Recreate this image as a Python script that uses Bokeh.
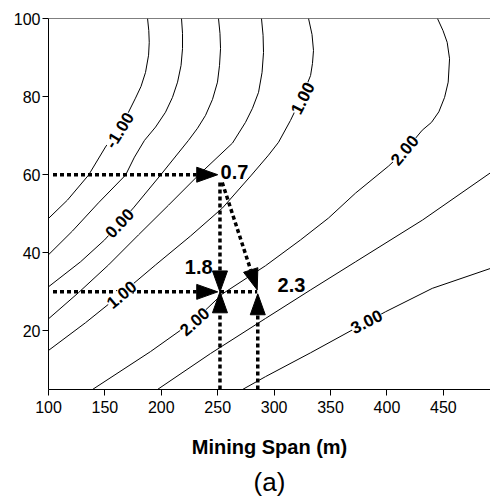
import math

from bokeh.plotting import figure
from bokeh.models import Label, Span, Range1d, FixedTicker, Title
from bokeh.embed import file_html
from bokeh.resources import INLINE

# Isolines of the response over mining span (m) and the vertical variable,
# traced as (span, y) point lists, one pair of lists per contour level.
level_neg100_x = [187.8, 188.9, 189.3, 188.7, 186.0, 182.0, 177.1, 170.9, 163.8, 150.5, 135.5, 116.8, 100.0]
level_neg100_y = [100.0, 96.9, 93.9, 90.6, 86.2, 82.6, 79.6, 76.0, 72.7, 67.1, 59.9, 53.5, 48.8]

level_neg050_x = [217.9, 218.8, 218.8, 217.5, 214.4, 209.9, 203.7, 194.9, 185.1, 176.2, 168.3, 144.3, 121.3, 100.0]
level_neg050_y = [100.0, 96.2, 92.3, 88.0, 83.7, 79.8, 76.0, 72.2, 68.8, 64.5, 59.9, 52.8, 45.6, 39.5]

level_000_x = [250.7, 252.0, 252.5, 251.6, 249.8, 245.4, 239.2, 232.1, 224.1, 199.3, 175.3, 149.7, 128.4, 100.0]
level_000_y = [100.0, 96.2, 92.3, 88.0, 83.7, 79.3, 75.2, 71.9, 68.8, 59.9, 51.5, 43.3, 37.7, 31.3]

level_050_x = [288.8, 290.2, 290.6, 289.3, 286.2, 280.8, 274.6, 263.1, 233.0, 206.4, 179.8, 153.2, 126.6, 100.0]
level_050_y = [100.0, 95.7, 91.3, 86.2, 81.1, 77.0, 73.4, 68.1, 59.9, 52.2, 44.6, 36.9, 29.8, 23.1]

level_100_x = [330.5, 333.6, 334.9, 334.0, 332.3, 325.2, 314.5, 303.9, 295.0, 279.9, 254.3, 225.9, 194.9, 163.8, 132.8, 100.0]
level_100_y = [100.0, 95.9, 91.8, 88.5, 85.4, 80.3, 73.9, 68.3, 65.0, 59.9, 51.5, 44.3, 36.9, 29.3, 22.1, 15.0]

level_200_x = [444.8, 449.7, 453.4, 455.5, 454.3, 451.1, 446.0, 439.5, 431.3, 416.5, 401.4, 372.2, 348.2, 323.4, 292.4, 254.3, 230.3, 190.4, 139.0]
level_200_y = [100.0, 96.9, 93.9, 89.7, 83.7, 79.8, 76.1, 73.4, 71.4, 66.3, 62.2, 55.3, 48.9, 43.3, 36.7, 29.5, 22.9, 14.7, 5.0]

level_250_x = [491.8, 431.6, 372.2, 332.3, 292.4, 243.6, 196.6]
level_250_y = [60.5, 48.4, 37.7, 30.5, 23.2, 14.2, 5.0]

level_300_x = [272.0, 292.4, 332.3, 381.0, 398.7, 440.2, 491.8]
level_300_y = [5.0, 8.3, 14.4, 22.1, 24.9, 30.9, 36.0]

# inline contour labels: level text, position and text angle (deg)
clabel_text = ["-1.00", "0.00", "1.00", "1.00", "2.00", "2.00", "3.00"]
clabel_x = [162.9, 162.9, 164.7, 325.2, 415.6, 229.4, 381.9]
clabel_y = [71.4, 47.6, 29.3, 79.6, 66.3, 22.4, 22.4]
clabel_angle = [58, 47, 40, 63, 50, 42, 27]

# read-out guides: arrows (start -> tip) and a plain connecting segment
arrow_x0 = [104.0, 252.0, 104.0, 252.0, 254.0, 285.5]
arrow_y0 = [60.0, 58.0, 30.0, 5.0, 58.0, 5.0]
arrow_x1 = [250.0, 252.0, 250.0, 252.0, 285.0, 285.5]
arrow_y1 = [60.0, 30.0, 30.0, 30.0, 30.5, 29.5]
link_x = [252.0, 285.0]
link_y = [30.0, 30.0]

# read-out values
value_text = ["0.7", "1.8", "2.3"]
value_x = [252.5, 245.5, 303.0]
value_y = [60.8, 36.3, 31.7]
value_align = ["left", "right", "left"]

x_ticks = [100, 150, 200, 250, 300, 350, 400, 450]
y_ticks = [20, 40, 60, 80, 100]

FONT = "Liberation Sans"
X0, X1, Y0, Y1 = 100, 491.8, 5, 100
FRAME_W, FRAME_H = 442, 372

p = figure(width=490, height=501, output_backend="svg", toolbar_location=None,
           x_range=Range1d(X0, X1), y_range=Range1d(Y0, Y1),
           min_border_left=48, min_border_right=0, min_border_top=18,
           min_border_bottom=111)
p.grid.visible = False
p.outline_line_color = None
p.background_fill_color = "white"
p.border_fill_color = "white"

for ax in (p.xaxis[0], p.yaxis[0]):
    ax.axis_line_color = "black"
    ax.axis_line_width = 1
    ax.major_tick_line_color = "black"
    ax.major_tick_out = 6
    ax.major_tick_in = 0
    ax.minor_tick_line_color = None
    ax.major_label_text_font = FONT
    ax.major_label_text_font_size = "16px"
    ax.major_label_text_color = "black"
p.xaxis.ticker = FixedTicker(ticks=x_ticks)
p.yaxis.ticker = FixedTicker(ticks=y_ticks)
p.yaxis.major_label_standoff = 2

p.xaxis.axis_label = "Mining Span (m)"
p.xaxis.axis_label_text_font = FONT
p.xaxis.axis_label_text_font_style = "bold"
p.xaxis.axis_label_text_font_size = "20px"
p.xaxis.axis_label_text_color = "black"
p.xaxis.axis_label_standoff = 20

p.add_layout(Title(text="(a)", align="center", text_font=FONT,
                   text_font_style="normal", text_font_size="26px",
                   text_color="black", standoff=9), "below")

p.add_layout(Span(location=Y1, dimension="width", line_color="black", line_width=1))

contours = [
    (level_neg100_x, level_neg100_y), (level_neg050_x, level_neg050_y),
    (level_000_x, level_000_y), (level_050_x, level_050_y),
    (level_100_x, level_100_y), (level_200_x, level_200_y),
    (level_250_x, level_250_y), (level_300_x, level_300_y),
]
for xs, ys in contours:
    p.line(xs, ys, line_color="black", line_width=1, line_join="round")

for t, x, y, a in zip(clabel_text, clabel_x, clabel_y, clabel_angle):
    p.add_layout(Label(x=x, y=y, text=t, angle=a, angle_units="deg",
                       text_align="center", text_baseline="middle",
                       text_font=FONT, text_font_style="bold",
                       text_font_size="17px", text_color="black",
                       background_fill_color="white"))

# dotted shafts ending at the base of slender filled arrowheads
SX = FRAME_W / (X1 - X0)
SY = FRAME_H / (Y1 - Y0)
HEAD_LEN, HEAD_W = 21, 15
dots = dict(line_color="black", line_width=3.5, line_dash="4 3", line_cap="butt")
p.line(link_x, link_y, **dots)
head_xs, head_ys = [], []
for x0, y0, x1, y1 in zip(arrow_x0, arrow_y0, arrow_x1, arrow_y1):
    dx, dy = (x1 - x0) * SX, (y1 - y0) * SY
    d = math.hypot(dx, dy)
    ux, uy = dx / d, dy / d
    bx, by = x1 - HEAD_LEN * ux / SX, y1 - HEAD_LEN * uy / SY
    nx, ny = -uy * HEAD_W / 2, ux * HEAD_W / 2
    head_xs.append([x1, bx + nx / SX, bx - nx / SX])
    head_ys.append([y1, by + ny / SY, by - ny / SY])
    p.line([x0, bx], [y0, by], **dots)
p.patches(head_xs, head_ys, fill_color="black", line_color="black", line_width=1)

for t, x, y, al in zip(value_text, value_x, value_y, value_align):
    p.add_layout(Label(x=x, y=y, text=t, text_align=al, text_baseline="middle",
                       text_font=FONT, text_font_style="bold",
                       text_font_size="20px", text_color="black"))

open("out.html", "w").write(file_html(p, INLINE))
